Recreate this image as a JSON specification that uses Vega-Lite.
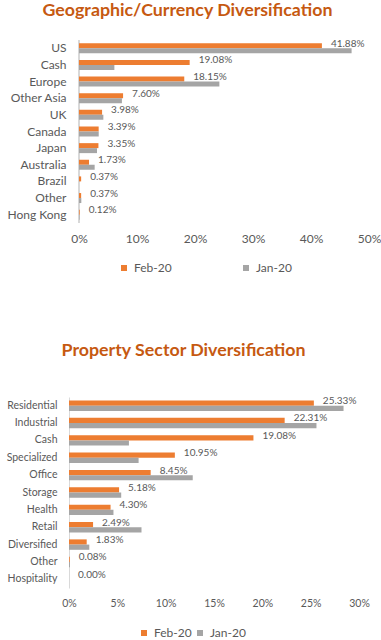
{
  "$schema": "https://vega.github.io/schema/vega-lite/v6.json",
  "padding": {"left": 0, "top": 2, "right": 0, "bottom": 0},
  "background": "white",
  "spacing": 68,
  "config": {
    "view": {"stroke": null},
    "font": "Lato",
    "title": {"font": "Lato", "fontSize": 17.8, "fontWeight": "bold", "color": "#C65911", "anchor": "middle", "frame": "group"},
    "axis": {"labelFont": "Lato", "labelColor": "#595959", "labelFontSize": 12, "ticks": false, "grid": false, "title": null, "labelFlush": false, "labelOverlap": false},
    "legend": {"labelFont": "Lato", "labelColor": "#595959", "labelFontSize": 12, "title": null, "orient": "none", "direction": "horizontal", "symbolType": "square", "symbolSize": 36, "symbolStrokeWidth": 0, "labelOffset": 4}
  },
  "datasets": {
    "geo": [
      {"category": "US", "series": "Feb-20", "value": 0.4188},
      {"category": "US", "series": "Jan-20", "value": 0.470},
      {"category": "Cash", "series": "Feb-20", "value": 0.1908},
      {"category": "Cash", "series": "Jan-20", "value": 0.061},
      {"category": "Europe", "series": "Feb-20", "value": 0.1815},
      {"category": "Europe", "series": "Jan-20", "value": 0.242},
      {"category": "Other Asia", "series": "Feb-20", "value": 0.0760},
      {"category": "Other Asia", "series": "Jan-20", "value": 0.074},
      {"category": "UK", "series": "Feb-20", "value": 0.0398},
      {"category": "UK", "series": "Jan-20", "value": 0.042},
      {"category": "Canada", "series": "Feb-20", "value": 0.0339},
      {"category": "Canada", "series": "Jan-20", "value": 0.034},
      {"category": "Japan", "series": "Feb-20", "value": 0.0335},
      {"category": "Japan", "series": "Jan-20", "value": 0.031},
      {"category": "Australia", "series": "Feb-20", "value": 0.0173},
      {"category": "Australia", "series": "Jan-20", "value": 0.027},
      {"category": "Brazil", "series": "Feb-20", "value": 0.0037},
      {"category": "Brazil", "series": "Jan-20", "value": 0.0},
      {"category": "Other", "series": "Feb-20", "value": 0.0037},
      {"category": "Other", "series": "Jan-20", "value": 0.004},
      {"category": "Hong Kong", "series": "Feb-20", "value": 0.0012},
      {"category": "Hong Kong", "series": "Jan-20", "value": 0.001}
    ],
    "sector": [
      {"category": "Residential", "series": "Feb-20", "value": 0.2533},
      {"category": "Residential", "series": "Jan-20", "value": 0.284},
      {"category": "Industrial", "series": "Feb-20", "value": 0.2231},
      {"category": "Industrial", "series": "Jan-20", "value": 0.256},
      {"category": "Cash", "series": "Feb-20", "value": 0.1908},
      {"category": "Cash", "series": "Jan-20", "value": 0.062},
      {"category": "Specialized", "series": "Feb-20", "value": 0.1095},
      {"category": "Specialized", "series": "Jan-20", "value": 0.072},
      {"category": "Office", "series": "Feb-20", "value": 0.0845},
      {"category": "Office", "series": "Jan-20", "value": 0.128},
      {"category": "Storage", "series": "Feb-20", "value": 0.0518},
      {"category": "Storage", "series": "Jan-20", "value": 0.054},
      {"category": "Health", "series": "Feb-20", "value": 0.0430},
      {"category": "Health", "series": "Jan-20", "value": 0.046},
      {"category": "Retail", "series": "Feb-20", "value": 0.0249},
      {"category": "Retail", "series": "Jan-20", "value": 0.075},
      {"category": "Diversified", "series": "Feb-20", "value": 0.0183},
      {"category": "Diversified", "series": "Jan-20", "value": 0.021},
      {"category": "Other", "series": "Feb-20", "value": 0.0008},
      {"category": "Other", "series": "Jan-20", "value": 0.001},
      {"category": "Hospitality", "series": "Feb-20", "value": 0.0},
      {"category": "Hospitality", "series": "Jan-20", "value": 0.0}
    ]
  },
  "vconcat": [
    {
      "title": {"text": "Geographic/Currency Diversification", "offset": 19, "dx": -31.5},
      "width": 300,
      "height": 183,
      "data": {"name": "geo"},
      "encoding": {
        "y": {"field": "category", "type": "nominal",
          "sort": ["US", "Cash", "Europe", "Other Asia", "UK", "Canada", "Japan", "Australia", "Brazil", "Other", "Hong Kong"],
          "scale": {"paddingInner": 0.4, "paddingOuter": 0.2},
          "axis": {"domain": false, "labelPadding": 3, "minExtent": 69, "maxExtent": 69}},
        "x": {"field": "value", "type": "quantitative", "scale": {"domain": [-0.01724, 0.5], "nice": false, "zero": false},
          "axis": {"values": [0, 0.1, 0.2, 0.3, 0.4, 0.5], "format": ".0%", "domain": false, "labelPadding": 10}},
        "yOffset": {"field": "series", "type": "nominal", "scale": {"domain": ["Feb-20", "Jan-20"], "paddingInner": 0, "paddingOuter": 0}}
      },
      "layer": [
        {
          "mark": {"type": "rule", "color": "#D9D9D9", "strokeWidth": 1},
          "encoding": {"x": {"datum": 0}, "y": null, "yOffset": null}
        },
        {
          "mark": {"type": "bar"},
          "encoding": {
            "x2": {"datum": 0},
            "color": {"field": "series", "type": "nominal",
              "scale": {"domain": ["Feb-20", "Jan-20"], "range": ["#ED7D31", "#A5A5A5"]},
              "legend": {"legendX": 49, "legendY": 222, "columnPadding": 68}}
          }
        },
        {
          "transform": [{"filter": "datum.series === 'Feb-20'"}],
          "mark": {"type": "text", "align": "left", "baseline": "middle", "dx": 9, "dy": -2, "fontSize": 10, "color": "#595959"},
          "encoding": {"text": {"field": "value", "type": "quantitative", "format": ".2%"}}
        }
      ]
    },
    {
      "title": {"text": "Property Sector Diversification", "offset": 36, "dx": -30.5},
      "width": 290,
      "height": 191,
      "data": {"name": "sector"},
      "encoding": {
        "y": {"field": "category", "type": "nominal",
          "sort": ["Residential", "Industrial", "Cash", "Specialized", "Office", "Storage", "Health", "Retail", "Diversified", "Other", "Hospitality"],
          "scale": {"paddingInner": 0.4, "paddingOuter": 0.2},
          "axis": {"domain": true, "domainColor": "#D9D9D9", "labelPadding": 12, "labelFontSize": 10.5, "minExtent": 69, "maxExtent": 69}},
        "x": {"field": "value", "type": "quantitative", "scale": {"domain": [0, 0.3], "nice": false},
          "axis": {"values": [0, 0.05, 0.1, 0.15, 0.2, 0.25, 0.3], "format": ".0%", "domain": false, "labelPadding": 10, "labelFontSize": 10.5}},
        "yOffset": {"field": "series", "type": "nominal", "scale": {"domain": ["Feb-20", "Jan-20"], "paddingInner": 0, "paddingOuter": 0}}
      },
      "layer": [
        {
          "mark": {"type": "bar"},
          "encoding": {
            "color": {"field": "series", "type": "nominal",
              "scale": {"domain": ["Feb-20", "Jan-20"], "range": ["#ED7D31", "#A5A5A5"]},
              "legend": {"legendX": 69, "legendY": 230, "columnPadding": 2}}
          }
        },
        {
          "transform": [{"filter": "datum.series === 'Feb-20'"}],
          "mark": {"type": "text", "align": "left", "baseline": "middle", "dx": 9, "dy": -2, "fontSize": 10, "color": "#595959"},
          "encoding": {"text": {"field": "value", "type": "quantitative", "format": ".2%"}}
        }
      ]
    }
  ],
  "resolve": {"scale": {"color": "independent", "x": "independent", "y": "independent", "yOffset": "independent"}, "legend": {"color": "independent"}}
}
